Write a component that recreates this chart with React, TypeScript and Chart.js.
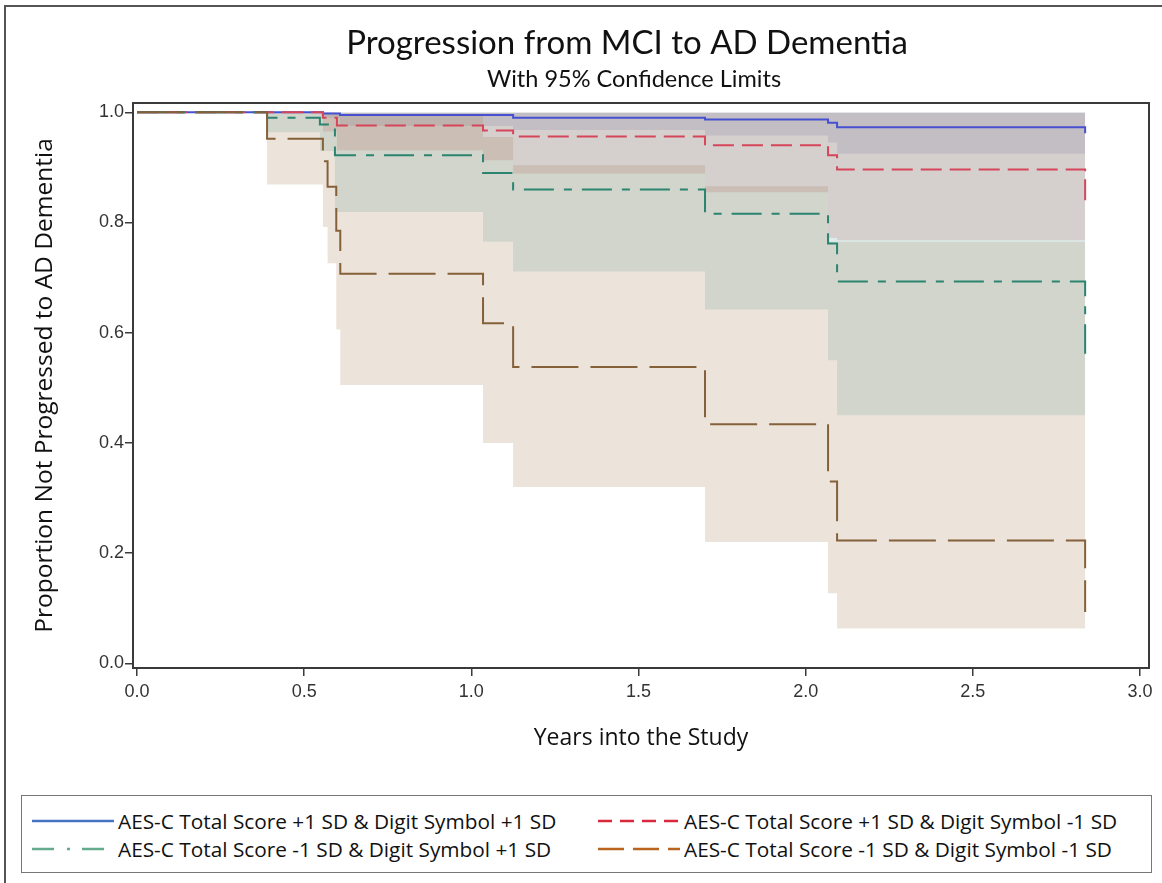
import React, { useEffect, useRef } from 'react';
import Chart from 'chart.js/auto';

const TITLE = 'Progression from MCI to AD Dementia';
const SUBTITLE = 'With 95% Confidence Limits';
const X_TITLE = 'Years into the Study';
const Y_TITLE = 'Proportion Not Progressed to AD Dementia';
const X_TICKS = [0, 0.5, 1, 1.5, 2, 2.5, 3];
const Y_TICKS = [0, 0.2, 0.4, 0.6, 0.8, 1.0];

const SERIES_NAMES = [
  'AES-C Total Score +1 SD & Digit Symbol +1 SD',
  'AES-C Total Score +1 SD & Digit Symbol -1 SD',
  'AES-C Total Score -1 SD & Digit Symbol +1 SD',
  'AES-C Total Score -1 SD & Digit Symbol -1 SD',
];

// Group 1: AES-C +1 SD & Digit Symbol +1 SD (blue)
const BLUE_TIME = [0, 0.556, 0.607, 1.125, 1.699, 2.067, 2.094, 2.836];
const BLUE_EST = [1, 0.998, 0.995, 0.99, 0.987, 0.981, 0.973, 0.962];
const BLUE_LCL = [1, 0.99, 0.975, 0.968, 0.958, 0.945, 0.925, 0.925];
const BLUE_UCL = [1, 0.9995, 0.9995, 0.9995, 0.9995, 0.9995, 0.9995, 0.9995];

// Group 2: AES-C +1 SD & Digit Symbol -1 SD (red)
const RED_TIME = [0, 0.556, 0.598, 1.035, 1.125, 1.699, 2.067, 2.094, 2.836];
const RED_EST = [1, 0.99, 0.976, 0.967, 0.956, 0.94, 0.922, 0.896, 0.84];
const RED_LCL = [1, 0.965, 0.931, 0.913, 0.889, 0.855, 0.772, 0.768, 0.768];
const RED_UCL = [1, 0.999, 0.999, 0.999, 0.999, 0.999, 0.999, 0.999, 0.999];

// Group 3: AES-C -1 SD & Digit Symbol +1 SD (green)
const GREEN_TIME = [0, 0.389, 0.547, 0.592, 1.035, 1.125, 1.699, 2.067, 2.094, 2.836];
const GREEN_EST = [1, 0.99, 0.978, 0.922, 0.89, 0.86, 0.816, 0.762, 0.693, 0.562];
const GREEN_LCL = [1, 0.964, 0.93, 0.819, 0.765, 0.711, 0.642, 0.55, 0.45, 0.45];
const GREEN_UCL = [1, 0.999, 0.999, 0.999, 0.999, 0.999, 0.999, 0.999, 0.999, 0.999];

// Group 4: AES-C -1 SD & Digit Symbol -1 SD (brown)
const BROWN_TIME = [0, 0.389, 0.556, 0.57, 0.596, 0.608, 1.035, 1.125, 1.699, 2.067, 2.094, 2.836];
const BROWN_EST = [1, 0.952, 0.911, 0.865, 0.785, 0.707, 0.617, 0.538, 0.434, 0.33, 0.223, 0.093];
const BROWN_LCL = [1, 0.869, 0.792, 0.726, 0.606, 0.505, 0.4, 0.32, 0.22, 0.127, 0.063, 0.01];
const BROWN_UCL = [1, 0.999, 0.999, 0.999, 0.998, 0.995, 0.955, 0.904, 0.866, 0.765, 0.765, 0.765];

const LINE_COLORS = ['#4650d0', '#d6465a', '#2a8470', '#85613a'];
const FILL_COLORS = [
  'rgba(111,126,179,0.22)',
  'rgba(208,91,91,0.22)',
  'rgba(102,165,160,0.22)',
  'rgba(169,134,91,0.22)',
];
const LINE_DASHES: number[][] = [[], [21, 8], [30, 10, 8, 10], [47, 12]];

const LEGEND_COLORS = ['#4673c3', '#d9283c', '#64aa8c', '#b8641e'];
const LEGEND_DASHES = ['', '14 8', '22 13 3 12', '26 9'];

const pts = (t: number[], v: number[]) => t.map((x, i) => ({ x, y: v[i] }));

const framePlugin = {
  id: 'frameAndTitles',
  afterDraw(chart: any) {
    const { ctx, chartArea: a } = chart;
    ctx.save();
    ctx.strokeStyle = '#3a3a3a';
    ctx.lineWidth = 2;
    ctx.strokeRect(a.left, a.top, a.right - a.left, a.bottom - a.top);
    ctx.fillStyle = '#111';
    ctx.textAlign = 'center';
    ctx.textBaseline = 'middle';
    ctx.font = '33px Lato';
    ctx.fillText(TITLE, 627, 43);
    ctx.font = '23.5px Lato';
    ctx.fillText(SUBTITLE, 634, 79);
    ctx.restore();
  },
};

function ChartCanvas() {
  const ref = useRef<HTMLCanvasElement | null>(null);
  useEffect(() => {
    if (!ref.current) return;
    const groups = [
      { t: BLUE_TIME, e: BLUE_EST, l: BLUE_LCL, u: BLUE_UCL },
      { t: RED_TIME, e: RED_EST, l: RED_LCL, u: RED_UCL },
      { t: GREEN_TIME, e: GREEN_EST, l: GREEN_LCL, u: GREEN_UCL },
      { t: BROWN_TIME, e: BROWN_EST, l: BROWN_LCL, u: BROWN_UCL },
    ];
    const lineSets: any[] = [];
    for (let g = 3; g >= 0; g--) {
      lineSets.push({
        label: SERIES_NAMES[g],
        data: pts(groups[g].t, groups[g].e),
        stepped: true,
        borderColor: LINE_COLORS[g],
        borderWidth: 2,
        borderDash: LINE_DASHES[g],
        pointRadius: 0,
        fill: false,
      });
    }
    const bandSets: any[] = [];
    for (let g = 3; g >= 0; g--) {
      bandSets.push({
        label: SERIES_NAMES[g] + ' UCL',
        data: pts(groups[g].t, groups[g].u),
        stepped: true,
        borderWidth: 0,
        borderColor: 'rgba(0,0,0,0)',
        backgroundColor: FILL_COLORS[g],
        pointRadius: 0,
        fill: '+1',
      });
      bandSets.push({
        label: SERIES_NAMES[g] + ' LCL',
        data: pts(groups[g].t, groups[g].l),
        stepped: true,
        borderWidth: 0,
        borderColor: 'rgba(0,0,0,0)',
        pointRadius: 0,
        fill: false,
      });
    }
    const chart = new Chart(ref.current, {
      type: 'line',
      data: { datasets: [...lineSets, ...bandSets] },
      options: {
        animation: false,
        responsive: false,
        events: [],
        layout: { padding: { top: 103, left: 0, right: 13, bottom: 0 } },
        plugins: {
          legend: { display: false },
          tooltip: { enabled: false },
          filler: { drawTime: 'beforeDatasetsDraw', propagate: false },
        },
        scales: {
          x: {
            type: 'linear',
            min: -0.012,
            max: 3.027,
            afterFit: (s: any) => { s.height = 115; },
            afterBuildTicks: (s: any) => { s.ticks = X_TICKS.map((v) => ({ value: v })); },
            ticks: {
              callback: (v: any) => Number(v).toFixed(1),
              font: { family: 'Liberation Sans', size: 18 },
              color: '#333',
              padding: 5,
              maxRotation: 0,
            },
            grid: { drawOnChartArea: false, drawTicks: true, tickLength: 8, color: '#3a3a3a', lineWidth: 1.5 },
            border: { display: false },
            title: {
              display: true,
              text: X_TITLE,
              font: { family: 'Open Sans', size: 23 },
              color: '#111',
              padding: { top: 0, bottom: 31 },
            },
          },
          y: {
            type: 'linear',
            min: -0.0085,
            max: 1.0169,
            afterFit: (s: any) => { s.width = 133; },
            afterBuildTicks: (s: any) => { s.ticks = Y_TICKS.map((v) => ({ value: v })); },
            ticks: {
              callback: (v: any) => Number(v).toFixed(1),
              font: { family: 'Liberation Sans', size: 18 },
              color: '#333',
              padding: 1,
            },
            grid: { drawOnChartArea: false, drawTicks: true, tickLength: 8, color: '#3a3a3a', lineWidth: 1.5 },
            border: { display: false },
            title: {
              display: true,
              text: Y_TITLE,
              font: { family: 'Open Sans', size: 24.5 },
              color: '#111',
              padding: { top: 30, bottom: 0 },
            },
          },
        },
      },
      plugins: [framePlugin],
    });
    return () => chart.destroy();
  }, []);
  return <canvas ref={ref} width={1162} height={783} style={{ position: 'absolute', left: 0, top: 0, width: 1162, height: 783 }} />;
}

function LegendItem({ idx, left, top }: { idx: number; left: number; top: number }) {
  return (
    <div style={{ position: 'absolute', left, top, height: 28, display: 'flex', alignItems: 'center', whiteSpace: 'nowrap' }}>
      <svg width={82} height={10} style={{ display: 'block' }}>
        <line x1={0} y1={5} x2={82} y2={5} stroke={LEGEND_COLORS[idx]} strokeWidth={2.5} strokeDasharray={LEGEND_DASHES[idx] || undefined} />
      </svg>
      <span style={{ marginLeft: 4, fontFamily: 'Open Sans', fontSize: 20.8, color: '#111', lineHeight: '28px' }}>{SERIES_NAMES[idx]}</span>
    </div>
  );
}

export default function App() {
  return (
    <div style={{ position: 'absolute', left: 0, top: 0, width: 1162, height: 883, background: '#fff', overflow: 'hidden' }}>
      <div style={{ position: 'absolute', left: 4, top: 5, width: 1160, height: 880, borderTop: '2px solid #555', borderLeft: '2px solid #555' }} />
      <ChartCanvas />
      <div style={{ position: 'absolute', left: 21, top: 795, width: 1131, height: 78, border: '1.5px solid #777', boxSizing: 'border-box' }} />
      <LegendItem idx={0} left={32} top={807} />
      <LegendItem idx={1} left={598} top={807} />
      <LegendItem idx={2} left={32} top={835} />
      <LegendItem idx={3} left={598} top={835} />
    </div>
  );
}
